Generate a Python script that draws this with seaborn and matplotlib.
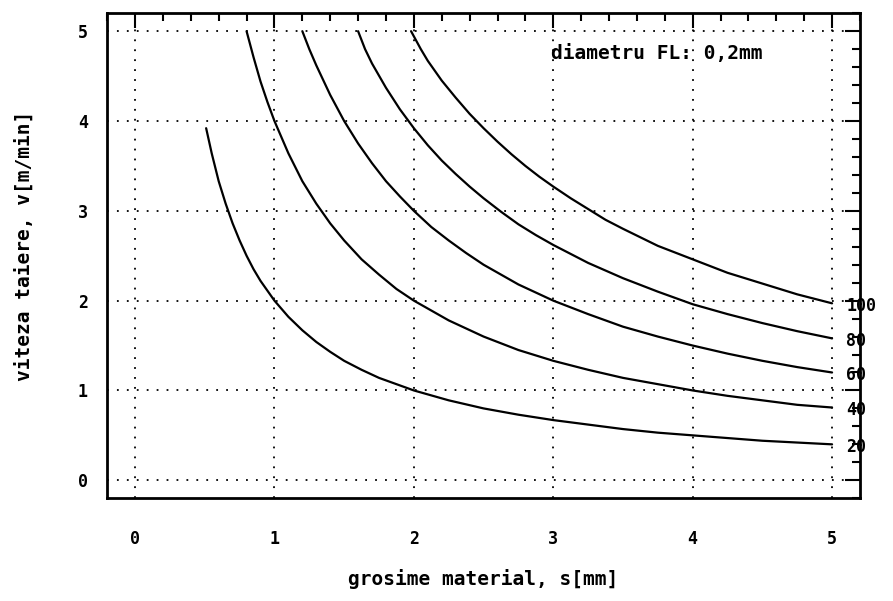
import pandas as pd
import seaborn as sns
import matplotlib.pyplot as plt
from matplotlib.ticker import MultipleLocator

# values: cutting speed v [m/min] vs material thickness s [mm]
s_20 = [0.51, 0.55, 0.6, 0.65, 0.7, 0.75, 0.8, 0.85, 0.9, 0.95, 1.0, 1.1, 1.2, 1.3, 1.4, 1.5, 1.625, 1.75, 1.875,
        2.0, 2.25, 2.5, 2.75, 3.0, 3.25, 3.5, 3.75, 4.0, 4.25, 4.5, 4.75, 5.0]
v_20 = [3.92, 3.64, 3.33, 3.08, 2.86, 2.67, 2.5, 2.35, 2.22, 2.11, 2.0, 1.82, 1.67, 1.54, 1.43, 1.33, 1.23, 1.14, 1.07,
        1.0, 0.89, 0.8, 0.73, 0.67, 0.62, 0.57, 0.53, 0.5, 0.47, 0.44, 0.42, 0.4]

s_40 = [0.8, 0.85, 0.9, 0.95, 1.0, 1.1, 1.2, 1.3, 1.4, 1.5, 1.625, 1.75, 1.875, 2.0, 2.25, 2.5, 2.75,
        3.0, 3.25, 3.5, 3.75, 4.0, 4.25, 4.5, 4.75, 5.0]
v_40 = [5.0, 4.71, 4.44, 4.21, 4.0, 3.64, 3.33, 3.08, 2.86, 2.67, 2.46, 2.29, 2.13, 2.0, 1.78, 1.6, 1.45,
        1.33, 1.23, 1.14, 1.07, 1.0, 0.94, 0.89, 0.84, 0.81]

s_60 = [1.2, 1.25, 1.3, 1.4, 1.5, 1.6, 1.7, 1.8, 1.9, 2.0, 2.125, 2.25, 2.375, 2.5, 2.75,
        3.0, 3.25, 3.5, 3.75, 4.0, 4.25, 4.5, 4.75, 5.0]
v_60 = [5.0, 4.8, 4.62, 4.29, 4.0, 3.75, 3.53, 3.33, 3.16, 3.0, 2.82, 2.67, 2.53, 2.4, 2.18,
        2.0, 1.85, 1.71, 1.6, 1.5, 1.41, 1.33, 1.26, 1.2]

s_80 = [1.6, 1.65, 1.7, 1.8, 1.9, 2.0, 2.1, 2.2, 2.3, 2.4, 2.5, 2.625, 2.75, 2.875,
        3.0, 3.25, 3.5, 3.75, 4.0, 4.25, 4.5, 4.75, 5.0]
v_80 = [5.0, 4.8, 4.64, 4.37, 4.13, 3.92, 3.73, 3.56, 3.41, 3.27, 3.14, 2.99, 2.85, 2.73,
        2.62, 2.42, 2.25, 2.1, 1.96, 1.85, 1.75, 1.66, 1.58]

s_100 = [1.98, 2.05, 2.1, 2.2, 2.3, 2.4, 2.5, 2.6, 2.7, 2.8, 2.9, 3.0, 3.125, 3.25, 3.375,
         3.5, 3.75, 4.0, 4.25, 4.5, 4.75, 5.0]
v_100 = [5.0, 4.8, 4.67, 4.45, 4.26, 4.08, 3.92, 3.77, 3.63, 3.5, 3.38, 3.27, 3.14, 3.02, 2.9,
         2.8, 2.61, 2.46, 2.31, 2.19, 2.07, 1.97]

curve_labels = ['20', '40', '60', '80', '100']
curves = [(s_20, v_20), (s_40, v_40), (s_60, v_60), (s_80, v_80), (s_100, v_100)]

rows = []
for lab, (s, v) in zip(curve_labels, curves):
    for si, vi in zip(s, v):
        rows.append({'s': si, 'v': vi, 'curba': lab})
df = pd.DataFrame(rows)

sns.set_style('white')
plt.rcParams['font.family'] = ['DejaVu Sans Mono', 'DejaVu Sans']
plt.rcParams['font.weight'] = 'bold'
plt.rcParams['text.color'] = 'black'
plt.rcParams['axes.labelcolor'] = 'black'
plt.rcParams['xtick.color'] = 'black'
plt.rcParams['ytick.color'] = 'black'

fig = plt.figure(figsize=(8.93, 6.01), dpi=100)
ax = fig.add_axes([0.12, 0.171, 0.843, 0.807])

sns.lineplot(data=df, x='s', y='v', hue='curba', units='curba', estimator=None,
             sort=False, palette={k: 'black' for k in curve_labels},
             linewidth=1.6, legend=False, ax=ax)

ax.set_xlim(-0.2, 5.2)
ax.set_ylim(-0.2, 5.2)
ax.xaxis.set_major_locator(MultipleLocator(1))
ax.xaxis.set_minor_locator(MultipleLocator(0.2))
ax.yaxis.set_major_locator(MultipleLocator(1))
ax.yaxis.set_minor_locator(MultipleLocator(0.2))
ax.xaxis.set_major_formatter(plt.FuncFormatter(lambda x, p: f'{x:.0f}'))
ax.yaxis.set_major_formatter(plt.FuncFormatter(lambda y, p: f'{y:.0f}'))

ax.tick_params(which='both', direction='in', top=True, right=True, color='black',
               labelcolor='black', width=1.5)
ax.tick_params(which='major', length=11, labelsize=12)
ax.tick_params(axis='x', which='major', pad=23)
ax.tick_params(axis='y', which='major', pad=14)
ax.tick_params(which='minor', length=6)

ax.grid(True, which='major', color='black', linestyle=(0, (1, 4.5)), linewidth=1.3)
for sp in ax.spines.values():
    sp.set_color('black')
    sp.set_linewidth(2)

# curve labels at the right end
for lab, (s, v) in zip(curve_labels, curves):
    ax.text(5.1, v[-1] - 0.03, lab, fontsize=12, fontweight='bold', color='black',
            ha='left', va='center', clip_on=False)

ax.text(3.74, 4.75, 'diametru FL: 0,2mm', fontsize=14, fontweight='bold', color='black',
        ha='center', va='center')

ax.set_xlabel('grosime material, s[mm]', fontsize=14, fontweight='bold', color='black')
ax.set_ylabel('viteza taiere, v[m/min]', fontsize=14, fontweight='bold', color='black')
ax.xaxis.set_label_coords(0.5, -0.146)
ax.yaxis.set_label_coords(-0.098, 0.52)

fig.savefig('out.png', dpi=100)
